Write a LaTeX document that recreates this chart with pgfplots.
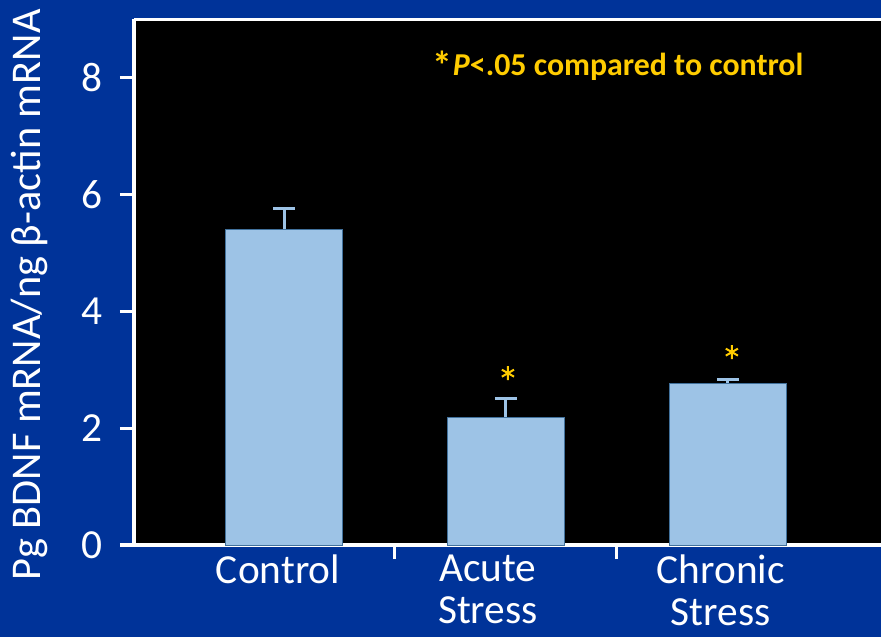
\documentclass[border=0pt]{standalone}
\usepackage{fontspec}
\setmainfont{Carlito}
\usepackage{pgfplots}
\pgfplotsset{compat=1.18}

\definecolor{slideblue}{RGB}{0,51,153}
\definecolor{barfill}{RGB}{157,195,230}
\definecolor{baredge}{RGB}{65,113,156}
\definecolor{signif}{RGB}{255,204,0}

\begin{document}
\begin{tikzpicture}
\fill[slideblue] (0,0) rectangle (881bp,637bp);
\begin{axis}[
  at={(134bp,92bp)}, anchor=south west,
  scale only axis, width=747bp, height=526bp,
  xmin=-0.676, xmax=2.69, ymin=0, ymax=9,
  axis background/.style={fill=black},
  axis x line*=bottom, axis y line*=left,
  axis line style={white, line width=3bp},
  tick align=outside,
  every tick/.style={white, line width=3bp},
  ytick={0,2,4,6,8},
  major tick length=14bp,
  xtick={0.5,1.5}, xticklabels={},
  extra x ticks={-0.027,0.919,1.968},
  extra x tick labels={Control, Acute\\Stress, Chronic\\Stress},
  extra x tick style={major tick length=0pt},
  /pgf/number format/assume math mode=true,
  ticklabel style={white, font=\fontsize{41.5}{42}\selectfont},
  xticklabel style={align=center, anchor=north, yshift=-10bp, inner sep=0pt},
  yticklabel style={anchor=east, xshift=-14bp},
  ylabel={Pg BDNF mRNA/ng β-actin mRNA},
  ylabel style={white, font=\fontsize{42.5}{44}\selectfont,
    at={(axis description cs:-0.1406,0.475)}, anchor=center, rotate=0},
  clip=false,
]
% mean expression per group, with the upper error
\addplot[ybar, bar width=117bp, fill=barfill, draw=baredge, line width=0.8bp,
  error bars/.cd, y dir=plus, y explicit,
  error bar style={barfill, line width=3bp},
  error mark options={barfill, rotate=90, mark size=11bp, line width=3bp}]
  coordinates {(0,5.40) +- (0,0.36) (1,2.19) +- (0,0.32) (2,2.77) +- (0,0.07)};
% significance markers
\addplot[only marks, mark=asterisk, mark size=7bp, signif, line width=2bp]
  coordinates {(1.009,2.94) (2.018,3.30)};
% top frame line
\draw[white, line width=3bp] (rel axis cs:0,1) -- (rel axis cs:1.01,1);
\node[anchor=base west, signif, inner sep=0pt,
  font=\fontsize{32}{36}\selectfont\bfseries]
  at (rel axis cs:0.400,0.8935)
  {\raisebox{-4bp}{\fontsize{40}{40}\selectfont *}\textit{P}<.05 compared to control};
\end{axis}
\pgfresetboundingbox
\useasboundingbox (0,0) rectangle (881bp,637bp);
\end{tikzpicture}
\end{document}
